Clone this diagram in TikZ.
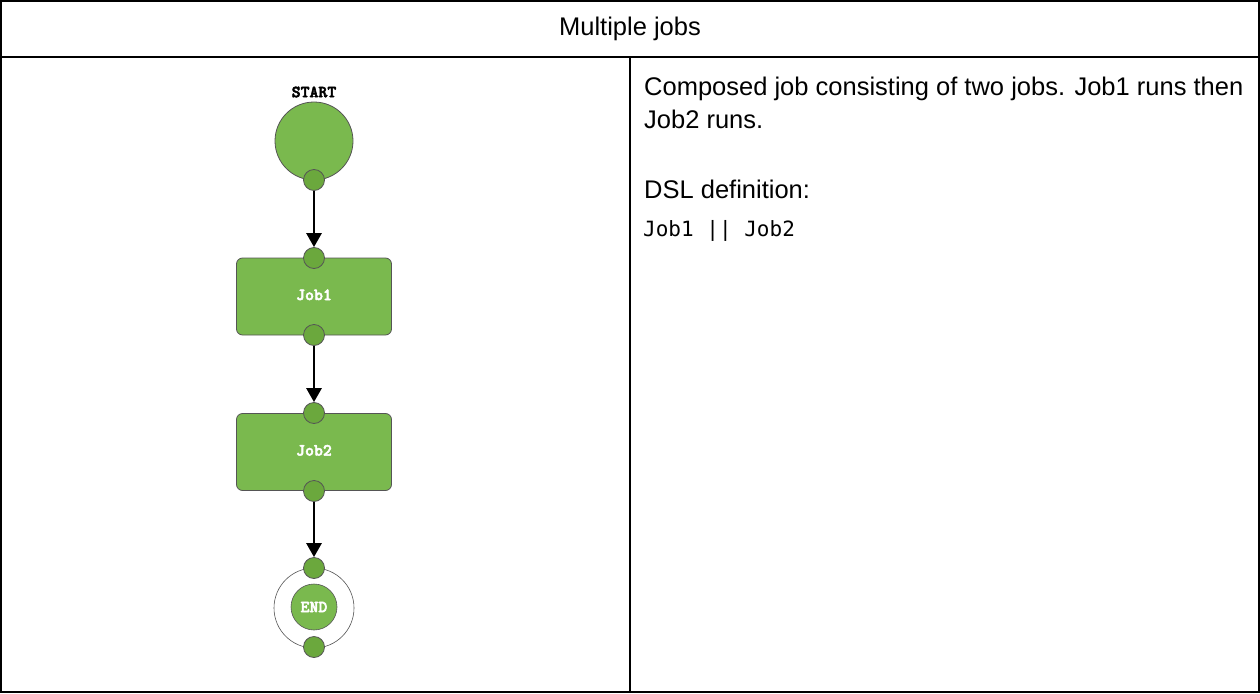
\documentclass[tikz,border=0pt]{standalone}
\usepackage{fontspec}
\setmainfont{Liberation Sans}
\newfontfamily\monofont{DejaVu Sans Mono}
\newfontfamily\labfont[BoldFeatures={FakeBold=3}]{Latin Modern Mono Light}
\usetikzlibrary{arrows.meta}
\definecolor{jobgreen}{HTML}{7AB94E}
\definecolor{portgreen}{HTML}{6BA83D}
\definecolor{edgegray}{HTML}{555555}
\tikzset{
  port/.style={circle, draw=edgegray, line width=0.8pt, fill=portgreen, minimum size=21pt, inner sep=0pt},
  labtext/.style={font=\labfont\bfseries\fontsize{17}{17}\selectfont},
  jobbox/.style={rectangle, rounded corners=6pt, draw=edgegray, line width=0.8pt, fill=jobgreen, minimum width=155pt, minimum height=77pt, inner sep=0pt, text=white, labtext},
  flow/.style={line width=2.8pt, -{Triangle[width=15pt,length=14pt]}},
  bodytext/.style={anchor=base west, inner sep=0pt, font=\fontsize{25.5}{30}\selectfont},
}
\begin{document}
\begin{tikzpicture}[x=1pt,y=-1pt]
\useasboundingbox (0,0) rectangle (1260,693);
% table
\draw[line width=2pt] (1,1) rectangle (1259,692);
\draw[line width=2pt] (1,57) -- (1259,57);
\draw[line width=2pt] (630,57) -- (630,692);
\node[inner sep=0pt, font=\fontsize{25.5}{30}\selectfont] (title) at (630,29) {Multiple jobs};
% right text
\node[bodytext] (l1) at (644,95) {Composed job consisting of two jobs. Job1 runs then};
\node[bodytext] (l2) at (644,128.5) {Job2 runs.};
\node[bodytext] (l3) at (644,198) {DSL definition:};
\node[anchor=base west, inner sep=0pt, font=\monofont\fontsize{21}{24}\selectfont] (l4) at (643,236) {Job1 || Job2};
% diagram
\node[labtext, inner sep=0pt] (startlbl) at (314,92) {START};
\node[circle, draw=edgegray, line width=0.8pt, fill=jobgreen, minimum size=78pt, inner sep=0pt] (start) at (314,141) {};
\node[port] (sp) at (314,180) {};
\node[jobbox] (job1) at (314,296.5) {\raisebox{3.5pt}{Job1}};
\node[port] (j1in) at (314,258) {};
\node[port] (j1out) at (314,335) {};
\node[jobbox] (job2) at (314,452) {\raisebox{3.5pt}{Job2}};
\node[port] (j2in) at (314,413) {};
\node[port] (j2out) at (314,491) {};
\node[circle, draw=edgegray, line width=0.6pt, fill=white, minimum size=80pt, inner sep=0pt] (endring) at (314,608) {};
\node[circle, draw=edgegray, line width=0.6pt, fill=jobgreen, minimum size=46pt, inner sep=0pt, text=white, labtext] (endc) at (314,607) {END};
\node[port] (ein) at (314,568) {};
\node[port] (eout) at (314,647) {};
\draw[flow] (sp.south) -- (j1in.north);
\draw[flow] (j1out.south) -- (j2in.north);
\draw[flow] (j2out.south) -- (ein.north);
\end{tikzpicture}
\end{document}
